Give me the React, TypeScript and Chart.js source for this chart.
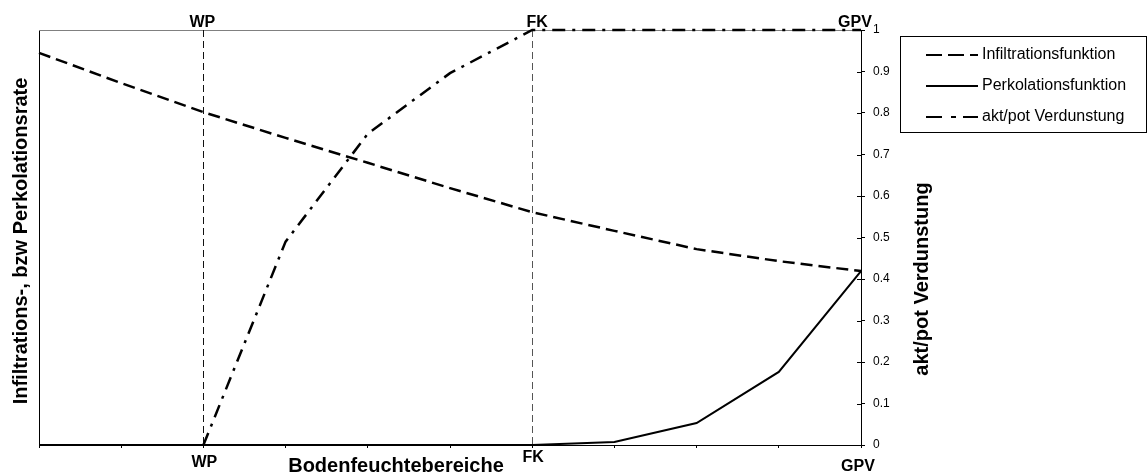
import React, { useEffect, useRef } from 'react';
import { Chart, registerables } from 'chart.js';

Chart.register(...registerables);

// ---- data ----
const moistureLabels = ['', '', 'WP', '', '', '', 'FK', '', '', '', 'GPV'];
const infiltration = [0.945, 0.872, 0.802, 0.74, 0.68, 0.619, 0.561, 0.516, 0.472, 0.443, 0.419];
const percolation = [0, 0, 0, 0, 0, 0, 0, 0.007, 0.053, 0.176, 0.419];
const evapRatio = [null, null, 0, 0.49, 0.75, 0.896, 1, 1, 1, 1, 1];
const seriesNames = ['Infiltrationsfunktion', 'Perkolationsfunktion', 'akt/pot Verdunstung'];
const leftTitle = 'Infiltrations-, bzw Perkolationsrate';
const rightTitle = 'akt/pot Verdunstung';
const xTitle = 'Bodenfeuchtebereiche';

const FONT = "'Liberation Sans', Arial, Helvetica, sans-serif";
const DASH_INF = [12, 6];
const DASH_EVAP = [13, 7, 3, 7];

const annotations = {
  id: 'annotations',
  beforeDatasetsDraw(chart: any) {
    const { ctx, chartArea: a, scales } = chart;
    const x = scales.x;
    ctx.save();
    ctx.strokeStyle = '#808080';
    ctx.lineWidth = 1;
    ctx.beginPath();
    ctx.moveTo(a.left, a.top + 0.5);
    ctx.lineTo(a.right, a.top + 0.5);
    ctx.stroke();
    ctx.setLineDash([7, 4]);
    moistureLabels.forEach((lab, i) => {
      if (lab === 'WP' || lab === 'FK') {
        const px = Math.round(x.getPixelForValue(i)) + 0.5;
        ctx.strokeStyle = lab === 'WP' ? '#111' : '#555';
        ctx.beginPath();
        ctx.moveTo(px, a.top);
        ctx.lineTo(px, a.bottom);
        ctx.stroke();
      }
    });
    ctx.restore();
  },
  afterDraw(chart: any) {
    const { ctx, chartArea: a, scales } = chart;
    const x = scales.x;
    const y1 = scales.y1;
    ctx.save();
    // inner tick marks on the right axis
    ctx.strokeStyle = '#000';
    ctx.lineWidth = 1;
    y1.ticks.forEach((t: any, i: number) => {
      const py = Math.round(y1.getPixelForTick(i)) + 0.5;
      ctx.beginPath();
      ctx.moveTo(a.right - 4, py);
      ctx.lineTo(a.right, py);
      ctx.stroke();
    });
    // zone labels top & bottom
    ctx.fillStyle = '#000';
    ctx.font = `bold 16px ${FONT}`;
    ctx.textAlign = 'center';
    ctx.textBaseline = 'alphabetic';
    const topDx: Record<string, number> = { WP: -1, FK: 5, GPV: -6 };
    const botDx: Record<string, number> = { WP: 1, FK: 1, GPV: -3 };
    const botY: Record<string, number> = { WP: 467, FK: 462, GPV: 471 };
    moistureLabels.forEach((lab, i) => {
      if (!lab) return;
      const px = x.getPixelForValue(i);
      ctx.fillText(lab, px + topDx[lab], a.top - 3);
      ctx.fillText(lab, px + botDx[lab], botY[lab]);
    });
    // axis titles
    ctx.font = `bold 20px ${FONT}`;
    ctx.fillText(xTitle, 396, 472);
    ctx.textBaseline = 'middle';
    ctx.save();
    ctx.translate(21, 241);
    ctx.rotate(-Math.PI / 2);
    ctx.fillText(leftTitle, 0, 0);
    ctx.restore();
    ctx.save();
    ctx.translate(922, 279);
    ctx.rotate(-Math.PI / 2);
    ctx.fillText(rightTitle, 0, 0);
    ctx.restore();
    // legend
    ctx.strokeStyle = '#000';
    ctx.lineWidth = 1;
    ctx.setLineDash([]);
    ctx.strokeRect(900.5, 36.5, 246, 96);
    const rows = [55, 86, 117];
    const dashes = [[16, 6], [], [16, 9, 5, 7]];
    ctx.font = `16px ${FONT}`;
    ctx.textAlign = 'left';
    seriesNames.forEach((name, i) => {
      ctx.lineWidth = 2;
      ctx.setLineDash(dashes[i]);
      ctx.beginPath();
      ctx.moveTo(926, rows[i]);
      ctx.lineTo(978, rows[i]);
      ctx.stroke();
      ctx.fillText(name, 982, rows[i]);
    });
    ctx.restore();
  },
};

export default function App() {
  const ref = useRef<HTMLCanvasElement | null>(null);
  useEffect(() => {
    if (!ref.current) return;
    const chart = new Chart(ref.current, {
      type: 'line',
      data: {
        labels: moistureLabels,
        datasets: [
          {
            label: seriesNames[0],
            data: infiltration,
            borderColor: '#000',
            borderWidth: 2.5,
            borderDash: DASH_INF,
            pointRadius: 0,
            tension: 0,
            yAxisID: 'y',
            clip: false,
          } as any,
          {
            label: seriesNames[1],
            data: percolation,
            borderColor: '#000',
            borderWidth: 2,
            pointRadius: 0,
            tension: 0,
            yAxisID: 'y',
            clip: false,
          },
          {
            label: seriesNames[2],
            data: evapRatio,
            borderColor: '#000',
            borderWidth: 2.5,
            borderDash: DASH_EVAP,
            pointRadius: 0,
            tension: 0,
            yAxisID: 'y1',
            clip: false,
          },
        ],
      },
      options: {
        responsive: false,
        animation: false,
        devicePixelRatio: 1,
        layout: { padding: { top: 30, left: 0, right: 0, bottom: 0 } },
        plugins: { legend: { display: false }, tooltip: { enabled: false } },
        scales: {
          x: {
            type: 'category',
            offset: false,
            ticks: { display: false },
            grid: { drawOnChartArea: false, tickLength: 3, color: '#000', offset: false },
            border: { color: '#000', width: 1 },
            afterFit: (s: any) => { s.height = 29; },
          },
          y: {
            position: 'left',
            min: 0,
            max: 1,
            ticks: { display: false },
            grid: { display: false },
            border: { color: '#000', width: 1 },
            afterFit: (s: any) => { s.width = 39; },
          },
          y1: {
            position: 'right',
            min: 0,
            max: 1,
            ticks: {
              stepSize: 0.1,
              padding: 8,
              color: '#000',
              font: { family: FONT, size: 12 },
              callback: (v: any) => String(Number(Number(v).toFixed(1))),
            },
            grid: { drawOnChartArea: false, tickLength: 4, color: '#000' },
            border: { color: '#000', width: 1 },
            afterFit: (s: any) => { s.width = 287; },
          },
        },
      },
      plugins: [annotations],
    } as any);
    return () => chart.destroy();
  }, []);
  return (
    <div style={{ position: 'absolute', left: 0, top: 0, width: 1148, height: 474 }}>
      <canvas ref={ref} width={1148} height={474} />
    </div>
  );
}
